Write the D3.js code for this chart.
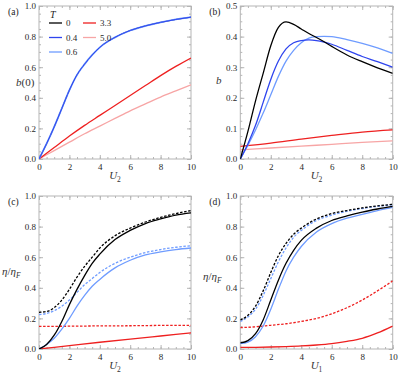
<!DOCTYPE html>
<html>
<head>
<meta charset="utf-8">
<script src="https://cdn.jsdelivr.net/npm/d3@7"></script>
<style>
  body { margin: 0; background: #fff; }
  svg text { font-family: "Liberation Serif", "DejaVu Serif", serif; }
</style>
</head>
<body>
<div id="chart"></div>
<script>
// ---- data ----
const temps = ["0", "0.4", "0.6", "3.3", "5.0"];
const colors = { "0": "#000000", "0.4": "#2f45ee", "0.6": "#6f9cff", "3.3": "#ee2020", "5.0": "#f7a5a5" };

// (a) b(0) vs U2
const aU = [0, 0.5, 1, 1.5, 2, 2.5, 3, 3.5, 4, 5, 6, 7, 8, 9, 10];
const aLow = [0, 0.1, 0.21, 0.33, 0.45, 0.55, 0.62, 0.68, 0.73, 0.795, 0.84, 0.87, 0.893, 0.912, 0.927];
const aU2 = [0, 1, 2, 3, 4, 5, 6, 7, 8, 9, 10];
const aT33 = [0, 0.075, 0.15, 0.22, 0.285, 0.35, 0.415, 0.48, 0.545, 0.605, 0.66];
const aT50 = [0, 0.055, 0.11, 0.165, 0.215, 0.265, 0.315, 0.36, 0.405, 0.445, 0.485];

// (b) b vs U2
const bU = [0, 0.5, 1, 1.5, 2, 2.5, 3, 3.5, 4, 4.5, 5, 5.5, 6, 7, 8, 9, 10];
const bT0 = [0, 0.09, 0.19, 0.28, 0.37, 0.43, 0.448, 0.44, 0.425, 0.41, 0.397, 0.383, 0.368, 0.34, 0.318, 0.298, 0.28];
const bT04 = [0, 0.05, 0.11, 0.185, 0.26, 0.32, 0.36, 0.38, 0.387, 0.389, 0.387, 0.382, 0.375, 0.355, 0.335, 0.318, 0.3];
const bT06 = [0, 0.045, 0.095, 0.15, 0.21, 0.27, 0.32, 0.355, 0.38, 0.395, 0.4, 0.401, 0.4, 0.39, 0.378, 0.363, 0.345];
const bU2 = [0, 2, 4, 6, 8, 10];
const bT33 = [0.041, 0.052, 0.065, 0.077, 0.088, 0.095];
const bT50 = [0.03, 0.036, 0.042, 0.048, 0.054, 0.059];

// (c) eta/etaF vs U2 (solid and dashed)
const cU = [0, 0.5, 1, 1.5, 2, 2.5, 3, 3.5, 4, 5, 6, 7, 8, 9, 10];
const cT0 = [0, 0.03, 0.09, 0.18, 0.29, 0.39, 0.48, 0.56, 0.62, 0.715, 0.775, 0.82, 0.85, 0.875, 0.89];
const cT0d = [0.24, 0.245, 0.27, 0.32, 0.39, 0.47, 0.54, 0.6, 0.66, 0.74, 0.79, 0.83, 0.86, 0.885, 0.905];
const cT06 = [0, 0.03, 0.07, 0.13, 0.2, 0.28, 0.35, 0.41, 0.455, 0.53, 0.58, 0.615, 0.635, 0.65, 0.66];
const cT06d = [0.225, 0.232, 0.25, 0.28, 0.32, 0.37, 0.42, 0.46, 0.5, 0.56, 0.6, 0.63, 0.65, 0.665, 0.675];
const cU2 = [0, 2, 4, 6, 8, 10];
const cT33 = [0, 0.022, 0.044, 0.065, 0.085, 0.105];
const cT33d = [0.148, 0.149, 0.151, 0.152, 0.154, 0.155];

// (d) eta/etaF vs U1
const dU = [0, 0.5, 1, 1.5, 2, 2.5, 3, 3.5, 4, 5, 6, 7, 8, 9, 10];
const dT0 = [0.04, 0.055, 0.1, 0.19, 0.32, 0.45, 0.56, 0.645, 0.71, 0.79, 0.84, 0.87, 0.895, 0.915, 0.932];
const dT0d = [0.19, 0.22, 0.28, 0.38, 0.5, 0.61, 0.69, 0.75, 0.79, 0.85, 0.885, 0.905, 0.922, 0.935, 0.945];
const dT06 = [0.035, 0.045, 0.08, 0.15, 0.26, 0.39, 0.51, 0.6, 0.67, 0.765, 0.82, 0.855, 0.88, 0.905, 0.925];
const dT06d = [0.18, 0.21, 0.26, 0.35, 0.46, 0.57, 0.66, 0.73, 0.775, 0.84, 0.875, 0.9, 0.918, 0.932, 0.942];
const dU2 = [0, 1, 2, 3, 4, 5, 6, 7, 8, 9, 10];
const dT33 = [0.01, 0.011, 0.013, 0.016, 0.02, 0.026, 0.035, 0.05, 0.07, 0.105, 0.15];
const dT33d = [0.14, 0.145, 0.155, 0.165, 0.18, 0.2, 0.23, 0.27, 0.32, 0.38, 0.445];

const svg = d3.select("#chart").append("svg")
    .attr("width", 399).attr("height", 379);

// draws one framed panel, Mathematica style (ticks inside on all four sides)
function panel(opt) {
    const x = d3.scaleLinear().domain([0, 10]).range([opt.left, opt.right]);
    const y = d3.scaleLinear().domain([0, opt.ymax]).range([opt.bottom, opt.top]);
    const g = svg.append("g");

    const yMajor = d3.range(0, opt.ymax + 1e-9, opt.ymax / 5);
    const yMinor = d3.range(0, opt.ymax + 1e-9, opt.ymax / 20);
    const xMajor = d3.range(0, 10.001, 2);
    const xMinor = d3.range(0, 10.001, 0.5);

    function axisStyle(sel) {
        sel.select(".domain").remove();
        sel.selectAll("line").attr("stroke", "#b5b5b5");
        sel.selectAll("text").attr("font-size", 9).attr("fill", "#2a2a2a")
            .attr("font-family", "Liberation Serif, DejaVu Serif, serif");
    }
    // minor ticks
    g.append("g").attr("transform", `translate(${opt.left},0)`)
        .call(d3.axisLeft(y).tickValues(yMinor).tickSize(-2).tickFormat("")).call(axisStyle);
    g.append("g").attr("transform", `translate(${opt.right},0)`)
        .call(d3.axisRight(y).tickValues(yMinor).tickSize(-2).tickFormat("")).call(axisStyle);
    g.append("g").attr("transform", `translate(0,${opt.bottom})`)
        .call(d3.axisBottom(x).tickValues(xMinor).tickSize(-2).tickFormat("")).call(axisStyle);
    g.append("g").attr("transform", `translate(0,${opt.top})`)
        .call(d3.axisTop(x).tickValues(xMinor).tickSize(-2).tickFormat("")).call(axisStyle);
    // major ticks
    g.append("g").attr("transform", `translate(${opt.left},0)`)
        .call(d3.axisLeft(y).tickValues(yMajor).tickSize(-4).tickPadding(3).tickFormat(d3.format(".1f"))).call(axisStyle);
    g.append("g").attr("transform", `translate(${opt.right},0)`)
        .call(d3.axisRight(y).tickValues(yMajor).tickSize(-4).tickFormat("")).call(axisStyle);
    g.append("g").attr("transform", `translate(0,${opt.bottom})`)
        .call(d3.axisBottom(x).tickValues(xMajor).tickSize(-4).tickPadding(5).tickFormat(d3.format("d"))).call(axisStyle);
    g.append("g").attr("transform", `translate(0,${opt.top})`)
        .call(d3.axisTop(x).tickValues(xMajor).tickSize(-4).tickFormat("")).call(axisStyle);

    g.append("rect")
        .attr("x", opt.left).attr("y", opt.top)
        .attr("width", opt.right - opt.left).attr("height", opt.bottom - opt.top)
        .attr("fill", "none").attr("stroke", "#b5b5b5").attr("stroke-width", 1);

    const line = d3.line()
        .x(d => x(d[0])).y(d => y(d[1]))
        .curve(d3.curveMonotoneX);

    const clipId = "clip" + opt.label;
    svg.append("clipPath").attr("id", clipId).append("rect")
        .attr("x", opt.left).attr("y", opt.top - 1)
        .attr("width", opt.right - opt.left).attr("height", opt.bottom - opt.top + 1);

    opt.series.forEach(s => {
        g.append("path")
            .datum(d3.zip(s.xs, s.ys))
            .attr("clip-path", `url(#${clipId})`)
            .attr("fill", "none")
            .attr("stroke", colors[s.t])
            .attr("stroke-width", s.w || 1.3)
            .attr("stroke-dasharray", s.dash ? "2.5,1.6" : null)
            .attr("d", line);
    });

    // panel label
    g.append("text").attr("x", opt.left - 31).attr("y", opt.top + 9)
        .attr("font-size", 9.5).attr("fill", "#222").text(`(${opt.label})`);

    // x-axis label
    const xl = g.append("text")
        .attr("x", (opt.left + opt.right) / 2).attr("y", opt.bottom + 20)
        .attr("text-anchor", "middle").attr("font-size", 11).attr("fill", "#333");
    xl.append("tspan").attr("font-style", "italic").text("U");
    xl.append("tspan").attr("font-size", 7.5).attr("dy", 2.5).text(opt.xsub);

    return { g, x, y };
}

// (a)
const pa = panel({
    label: "a", left: 39, right: 191, top: 6, bottom: 159, ymax: 1.0, xsub: "2",
    series: [
        { t: "5.0", xs: aU2, ys: aT50 },
        { t: "3.3", xs: aU2, ys: aT33 },
        { t: "0", xs: aU, ys: aLow, w: 0.8 },
        { t: "0.6", xs: aU, ys: aLow, w: 1.8 },
        { t: "0.4", xs: aU, ys: aLow, w: 1.0 }
    ]
});
const ya = pa.g.append("text").attr("x", 16).attr("y", 86).attr("font-size", 11).attr("fill", "#333");
ya.append("tspan").attr("font-style", "italic").text("b");
ya.append("tspan").text("(0)");

// legend in (a)
pa.g.append("text").attr("x", 50).attr("y", 18).attr("font-size", 10)
    .attr("font-style", "italic").attr("fill", "#222").text("T");
const legendPos = [
    { t: "0", x: 49, y: 23 }, { t: "0.4", x: 49, y: 37.5 }, { t: "0.6", x: 49, y: 52 },
    { t: "3.3", x: 83, y: 23 }, { t: "5.0", x: 83, y: 37.5 }
];
legendPos.forEach(p => {
    pa.g.append("line").attr("x1", p.x).attr("x2", p.x + 13).attr("y1", p.y).attr("y2", p.y)
        .attr("stroke", colors[p.t]).attr("stroke-width", 1.3);
    pa.g.append("text").attr("x", p.x + 17).attr("y", p.y + 3)
        .attr("font-size", 9).attr("fill", "#2a2a2a").text(p.t);
});

// (b)
const pb = panel({
    label: "b", left: 240.3, right: 392.7, top: 6, bottom: 159, ymax: 0.5, xsub: "2",
    series: [
        { t: "5.0", xs: bU2, ys: bT50 },
        { t: "3.3", xs: bU2, ys: bT33 },
        { t: "0.6", xs: bU, ys: bT06 },
        { t: "0.4", xs: bU, ys: bT04 },
        { t: "0", xs: bU, ys: bT0 }
    ]
});
pb.g.append("text").attr("x", 216).attr("y", 84).attr("font-size", 11)
    .attr("font-style", "italic").attr("fill", "#333").text("b");

// eta label helper
function etaLabel(g, x, yb) {
    const t = g.append("text").attr("x", x).attr("y", yb).attr("font-size", 11).attr("fill", "#333");
    t.append("tspan").attr("font-style", "italic").text("η");
    t.append("tspan").text("/");
    t.append("tspan").attr("font-style", "italic").text("η");
    t.append("tspan").attr("font-style", "italic").attr("font-size", 7.5).attr("dy", 2.5).text("F");
}

// (c)
const pc = panel({
    label: "c", left: 39, right: 191, top: 196, bottom: 349, ymax: 1.0, xsub: "2",
    series: [
        { t: "3.3", xs: cU2, ys: cT33 },
        { t: "3.3", xs: cU2, ys: cT33d, dash: true },
        { t: "0.6", xs: cU, ys: cT06 },
        { t: "0.6", xs: cU, ys: cT06d, dash: true },
        { t: "0", xs: cU, ys: cT0 },
        { t: "0", xs: cU, ys: cT0d, dash: true }
    ]
});
etaLabel(pc.g, 2, 275);

// (d)
const pd = panel({
    label: "d", left: 240.3, right: 392.7, top: 196, bottom: 349, ymax: 1.0, xsub: "1",
    series: [
        { t: "3.3", xs: dU2, ys: dT33 },
        { t: "3.3", xs: dU2, ys: dT33d, dash: true },
        { t: "0.6", xs: dU, ys: dT06 },
        { t: "0.6", xs: dU, ys: dT06d, dash: true },
        { t: "0", xs: dU, ys: dT0 },
        { t: "0", xs: dU, ys: dT0d, dash: true }
    ]
});
etaLabel(pd.g, 203, 280);
</script>
</body>
</html>
